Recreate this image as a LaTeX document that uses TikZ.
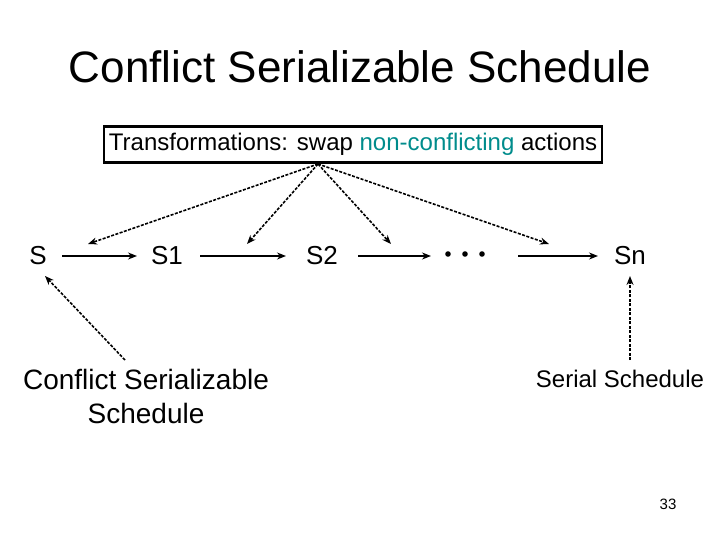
\documentclass[tikz,border=0pt]{standalone}
\usepackage{fontspec}
\setmainfont{Liberation Sans}
\usetikzlibrary{arrows.meta}
\definecolor{teal2}{RGB}{0,140,140}
\begin{document}
\begin{tikzpicture}[x=1pt,y=-1pt,
  lbl/.style={inner sep=0pt,font=\fontsize{26}{30}\selectfont},
  sol/.style={-{Stealth[length=9pt,width=7pt]},line width=1.4pt},
  dsh/.style={-{Stealth[length=9pt,width=7pt]},line width=1.6pt,dash pattern=on 3pt off 1.5pt}]
\useasboundingbox (0,0) rectangle (720,540);
\node[font=\fontsize{44}{50}\selectfont] (title) at (360,67) {Conflict Serializable Schedule};
\node[draw,line width=2.5pt,inner xsep=5pt,minimum height=36pt,font=\fontsize{24}{28}\selectfont] (box) at (353,144.5) {Transformations: swap \textcolor{teal2}{non-conflicting} actions};
\node[lbl] (S) at (38,256) {S};
\node[lbl] (S1) at (167,256) {S1};
\node[lbl] (S2) at (322,256) {S2};
\node[inner sep=0pt,minimum width=50pt,minimum height=10pt] (dots) at (465,256) {};
\foreach \x in {448,465,482} \fill (\x,254) circle (2.8pt);
\node[lbl] (Sn) at (630,256) {Sn};
\node[lbl,align=center,font=\fontsize{28}{34}\selectfont] (CS) at (146,396) {Conflict Serializable\\Schedule};
\node[inner sep=0pt,font=\fontsize{24}{28}\selectfont] (SS) at (620,379) {Serial Schedule};
\node[inner sep=0pt,font=\fontsize{15}{18}\selectfont] (pg) at (668,504) {33};
\coordinate (t) at (318,164);
\draw[sol] (62,256) -- (137,256);
\draw[sol] (200,256) -- (286,256);
\draw[sol] (358,256) -- (431,256);
\draw[sol] (518,256) -- (598,256);
\draw[dsh] (t) -- (88,244);
\draw[dsh] (t) -- (247,244);
\draw[dsh] (t) -- (391,244);
\draw[dsh] (t) -- (549,244);
\draw[dsh] (125,360) -- (45,276);
\draw[dsh] (630,360) -- (630,276);
\end{tikzpicture}
\end{document}
